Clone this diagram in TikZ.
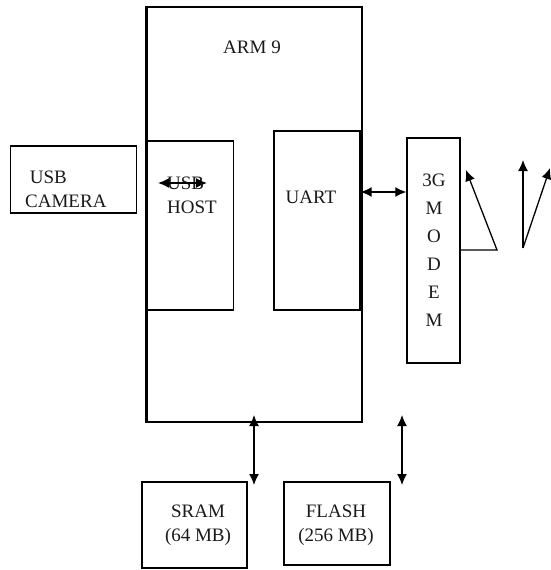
\documentclass[tikz,border=0pt]{standalone}
\usepackage{fontspec}
\setmainfont{Liberation Serif}
\usetikzlibrary{arrows.meta}
\begin{document}
\begin{tikzpicture}[x=1pt,y=-1pt,
  blk/.style={draw,line width=1.4pt,inner sep=0pt},
  lbl/.style={font=\fontsize{19}{24}\selectfont,inner sep=0pt,align=left,text=black!90},
  dar/.style={line width=1.3pt,{Latex[length=11pt,width=10pt]}-{Latex[length=11pt,width=10pt]}},
  sar/.style={line width=1.3pt,-{Latex[length=11pt,width=10pt]}}]
\useasboundingbox (0,0) rectangle (550,570);
% blocks
\node[blk,minimum width=215pt,minimum height=415pt] (arm) at (254.5,214.5) {};
\node[blk,minimum width=126pt,minimum height=67pt] (cam) at (73.5,179.5) {};
\node[blk,minimum width=86pt,minimum height=169pt] (host) at (190.5,225.5) {};
\node[blk,minimum width=86pt,minimum height=179pt] (uart) at (317,220.5) {};
\node[blk,minimum width=53pt,minimum height=225pt] (modem) at (433.5,250.5) {};
\node[blk,minimum width=105pt,minimum height=86pt] (sram) at (194.5,525) {};
\node[blk,minimum width=106pt,minimum height=83pt] (flash) at (337,523.5) {};
\draw[line width=2.4pt] (arm.north west) -- (arm.south west);
% labels
\node[lbl] (tarm) at (252,47) {ARM 9};
\node[lbl,anchor=west] (tcam) at (25,189) {\ USB\\CAMERA};
\node[lbl] (thost) at (192,195) {USB\\HOST};
\node[lbl] (tuart) at (311,197) {UART};
\node[lbl,align=center] (tmodem) at (434,250) {3G\\[4pt]M\\[4pt]O\\[4pt]D\\[4pt]E\\[4pt]M};
\node[lbl,align=center] (tsram) at (198,525) {SRAM\\(64 MB)};
\node[lbl,align=center] (tflash) at (336,525) {FLASH\\(256 MB)};
% connectors
\coordinate (h1) at (158,183);
\coordinate (h2) at (207,183);
\draw[dar,line width=1.6pt] (h1) -- (h2);
\draw[dar] (uart.east |- 0,192) -- (modem.west |- 0,192);
\coordinate (s1) at (254,415);
\coordinate (s2) at (254,485);
\draw[dar] (s1) -- (s2);
\coordinate (f1) at (402,415);
\coordinate (f2) at (402,485);
\draw[dar] (f1) -- (f2);
% antennas
\coordinate (a0) at (497,250);
\coordinate (a1) at (466,170);
\draw[sar] (modem.east |- a0) -- (a0) -- (a1);
\coordinate (b0) at (523,248);
\coordinate (b1) at (523,160);
\coordinate (b2) at (550,168);
\draw[sar] (b0) -- (b1);
\draw[sar] (b0) -- (b2);
\end{tikzpicture}
\end{document}
